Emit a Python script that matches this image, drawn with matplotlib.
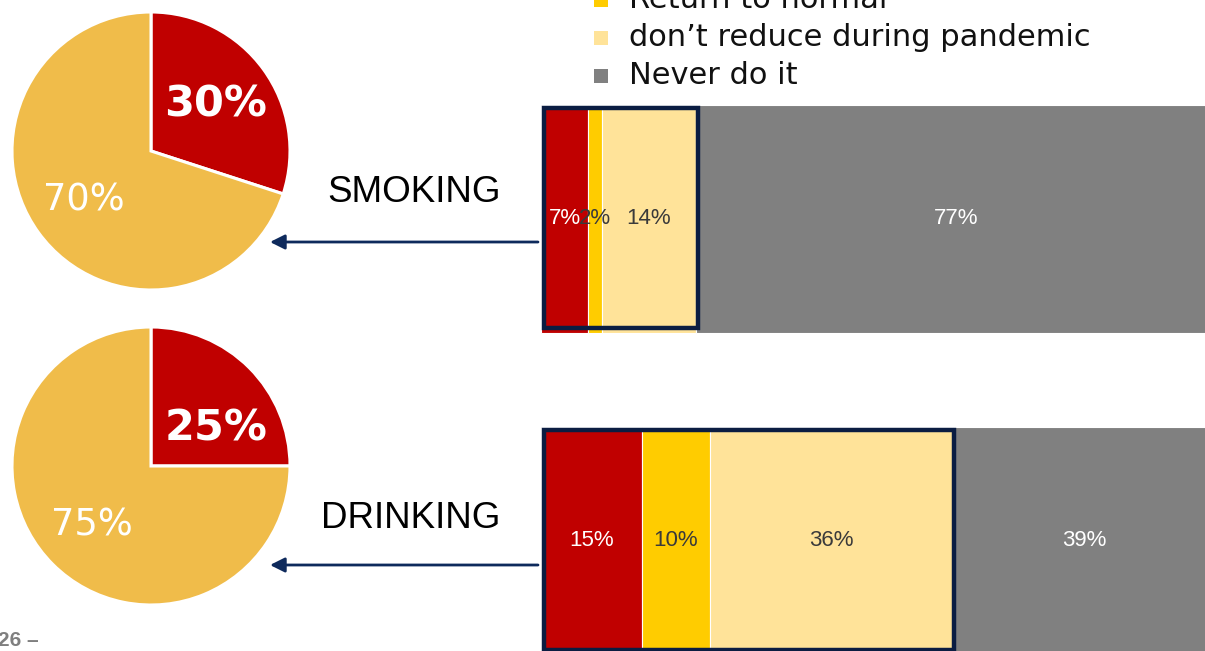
import numpy as np
import matplotlib.pyplot as plt
from matplotlib.patches import Rectangle

# habits shown on the left (pies) and right (stacked bars)
habits = ['SMOKING', 'DRINKING']
pie_share = [[30, 70], [25, 75]]
pie_labels = [['30%', '70%'], ['25%', '75%']]

segments = ['Reduce during pandemic', 'Return to normal',
            'don\u2019t reduce during pandemic', 'Never do it']
bar_values = [[7, 2, 14, 77], [15, 10, 36, 39]]
legend_items = ['Return to normal', 'don\u2019t reduce during pandemic', 'Never do it']

RED = '#C00000'
GOLD = '#F0BC4A'
seg_colors = [RED, '#FFCC00', '#FFE399', '#808080']
seg_text = ['white', '#3a3a3a', '#3a3a3a', 'white']
legend_colors = seg_colors[1:]
NAVY = '#0B1D42'

W, H = 1205, 651
fig = plt.figure(figsize=(W / 100, H / 100), dpi=100)

def px(x0, y0, w, h):
    # pixel box (top-left origin) -> figure fraction rect
    return [x0 / W, 1 - (y0 + h) / H, w / W, h / H]

# ---- pies ----
pie_boxes = [(12, 12, 278, 278), (12, 327, 278, 278)]
# (radius, angle) of the small-slice label in each pie
big_label_pos = [(0.57, None), (0.54, 30)]
for i, box in enumerate(pie_boxes):
    ax = fig.add_axes(px(*box))
    wedges, _ = ax.pie(pie_share[i], colors=[RED, GOLD], startangle=90,
                       counterclock=False,
                       wedgeprops=dict(edgecolor='white', linewidth=2.2))
    ax.set_xlim(-1, 1)
    ax.set_ylim(-1, 1)
    ax.set_aspect('equal')
    ax.axis('off')
    # label placement along each wedge's bisector
    start = 90
    for j, val in enumerate(pie_share[i]):
        mid = np.deg2rad(start - val * 3.6 / 2)
        start -= val * 3.6
        if j == 0:
            r, a = big_label_pos[i]
            ang = mid if a is None else np.deg2rad(a)
            ax.text(r * np.cos(ang), r * np.sin(ang), pie_labels[i][j],
                    ha='center', va='center', color='white', fontsize=31,
                    fontweight='bold', family='DejaVu Sans')
        else:
            r = 0.6
            ax.text(r * np.cos(mid), r * np.sin(mid), pie_labels[i][j],
                    ha='center', va='center', color='white', fontsize=26.5,
                    family='DejaVu Sans')

# ---- stacked bars ----
axb = fig.add_axes([541 / W, 0, 675 / W, 1])
axb.set_xlim(0, 100)
axb.set_ylim(H, 0)
axb.axis('off')
bar_y = [219, 541]
bar_h = 228
for i in range(len(habits)):
    left = 0
    for j, v in enumerate(bar_values[i]):
        axb.barh(bar_y[i], v, left=left, height=bar_h, color=seg_colors[j],
                 edgecolor='white', linewidth=0.8)
        axb.text(left + v / 2, bar_y[i], f'{v}%', ha='center', va='center',
                 color=seg_text[j], fontsize=16, family='Liberation Sans',
                 zorder=6)
        left += v
    # frame around everyone who does it
    does = sum(bar_values[i][:3])
    axb.add_patch(Rectangle((0.4, bar_y[i] - bar_h / 2 + 3), does - 0.2, bar_h - 8,
                            fill=False, edgecolor=NAVY, linewidth=3.2, zorder=5))

# ---- habit names and arrows ----
axo = fig.add_axes([0, 0, 1, 1])
axo.set_xlim(0, W)
axo.set_ylim(H, 0)
axo.axis('off')
name_pos = [(414, 193), (411, 518)]
arrow_y = [242, 565]
for i, name in enumerate(habits):
    axo.text(*name_pos[i], name, ha='center', va='center', fontsize=26.5,
             family='Liberation Sans', color='black')
    axo.annotate('', xy=(270, arrow_y[i]), xytext=(538, arrow_y[i]),
                 arrowprops=dict(arrowstyle='-|>', color='#0E2A5C', lw=2,
                                 mutation_scale=22, shrinkA=0, shrinkB=0))

# ---- legend ----
for k, lab in enumerate(legend_items):
    y = 0 + 38 * k
    axo.add_patch(Rectangle((594, y - 7), 14, 14, color=legend_colors[k], lw=0))
    axo.text(629, y, lab, ha='left', va='center', fontsize=22,
             family='DejaVu Sans', color='#111111')

axo.text(-2, 641, '26 \u2013', ha='left', va='center', fontsize=15,
         fontweight='bold', family='Liberation Sans', color='#7F7F7F')

fig.savefig('out.png', dpi=100)
